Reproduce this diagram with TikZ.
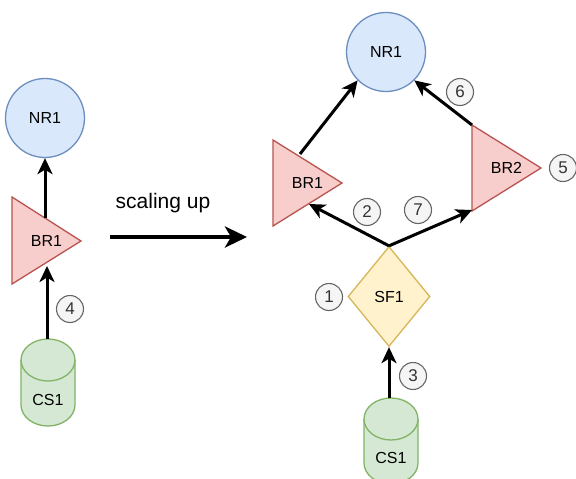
\documentclass[tikz,border=0pt]{standalone}
\usepackage{fontspec}
\setmainfont{Liberation Sans}
\usetikzlibrary{arrows.meta,shapes.geometric}
\definecolor{nrfill}{HTML}{DAE8FC}
\definecolor{nrdraw}{HTML}{6C8EBF}
\definecolor{brfill}{HTML}{F8CECC}
\definecolor{brdraw}{HTML}{B85450}
\definecolor{sffill}{HTML}{FFF2CC}
\definecolor{sfdraw}{HTML}{D6B656}
\definecolor{csfill}{HTML}{D5E8D4}
\definecolor{csdraw}{HTML}{82B366}
\definecolor{lblfill}{HTML}{F5F5F5}
\definecolor{lbldraw}{HTML}{666666}
\definecolor{lbltext}{HTML}{333333}
\tikzset{
  txt/.style={font=\fontsize{16}{18}\selectfont, inner sep=0pt},
  nrnode/.style={circle, draw=nrdraw, fill=nrfill, line width=1.3pt, minimum size=79pt, inner sep=0pt, font=\fontsize{16}{18}\selectfont},
  sfnode/.style={diamond, draw=sfdraw, fill=sffill, line width=1.3pt, minimum width=82pt, minimum height=100pt, inner sep=0pt, font=\fontsize{16}{18}\selectfont},
  brshape/.style={draw=brdraw, fill=brfill, line width=1.3pt, line join=miter},
  csshape/.style={draw=csdraw, fill=csfill, line width=1.3pt},
  lbl/.style={circle, draw=lbldraw, fill=lblfill, line width=1.1pt, minimum size=27pt, inner sep=0pt, text=lbltext, font=\fontsize{17}{18}\selectfont},
  conn/.style={line width=3pt, -{Stealth[length=16pt,width=15pt,inset=4.5pt]}},
  bigconn/.style={line width=4pt, -{Stealth[length=22pt,width=21pt,inset=6pt]}},
}
\newcommand{\mycyl}[5]{% left x, right x, top y, bottom y, ry
  \pgfmathsetmacro{\cx}{(#1+#2)/2}
  \pgfmathsetmacro{\rx}{(#2-#1)/2}
  \fill[csfill] (#1,#3+#5) rectangle (#2,#4-#5);
  \fill[csfill] (\cx,#4-#5) ellipse [x radius=\rx pt, y radius=#5 pt];
  \draw[csshape] (#1,#3+#5) -- (#1,#4-#5) arc [start angle=180, end angle=360, x radius=\rx pt, y radius=#5 pt] -- (#2,#3+#5);
  \draw[csshape] (\cx,#3+#5) ellipse [x radius=\rx pt, y radius=#5 pt];
}
\begin{document}
\begin{tikzpicture}[x=1pt,y=-1pt]
\useasboundingbox (0,0) rectangle (576,479);
\fill[white] (0,0) rectangle (576,479);

% ---------- left part ----------
\node[nrnode] (nrA) at (45,118) {NR1};
\draw[brshape] (12,197) -- (81,241) -- (12,284) -- cycle;
\node[txt] (brA) at (46.5,241) {BR1};
\coordinate (brAtop) at (45,218);
\coordinate (brAbot) at (47,266);
\mycyl{21}{75}{339}{426}{21}
\node[txt] (csA) at (48,400) {CS1};
\coordinate (csAtop) at (47,339);
\draw[conn] (brAtop) -- (nrA.south);
\draw[conn] (csAtop) -- (brAbot);
\node[lbl] (l4) at (70,309) {4};

% ---------- scaling arrow ----------
\node[font=\fontsize{21}{24}\selectfont, inner sep=0pt] (scl) at (163,203) {scaling up};
\coordinate (sclS) at (110,237);
\coordinate (sclE) at (247,237);
\draw[bigconn] (sclS) -- (sclE);

% ---------- right part ----------
\node[nrnode] (nrB) at (386,52) {NR1};
\draw[brshape] (273,140) -- (342,183) -- (273,226) -- cycle;
\node[txt] (brB) at (307.5,183) {BR1};
\draw[brshape] (472,125) -- (541,168) -- (472,211) -- cycle;
\node[txt] (brC) at (506.5,168) {BR2};
\node[sfnode] (sf) at (389,296.5) {SF1};
\mycyl{364}{418}{398}{484}{21}
\node[txt] (csB) at (391,458) {CS1};
\coordinate (csBtop) at (389,398);
\coordinate (brBtop) at (300,154);
\coordinate (brBbot) at (309,204);
\coordinate (brCtop) at (472,125);
\coordinate (brCbot) at (472,210);
\draw[conn] (brBtop) -- (nrB.225);
\draw[conn] (brCtop) -- (nrB.315);
\draw[conn] (sf.north) -- (brBbot);
\draw[conn] (sf.north) -- (brCbot);
\draw[conn] (csBtop) -- (sf.south);

\node[lbl] (l1) at (329,297) {1};
\node[lbl] (l2) at (367,212) {2};
\node[lbl] (l3) at (413,376) {3};
\node[lbl] (l5) at (563,168) {5};
\node[lbl] (l6) at (460,92) {6};
\node[lbl] (l7) at (418,210) {7};
\end{tikzpicture}
\end{document}
